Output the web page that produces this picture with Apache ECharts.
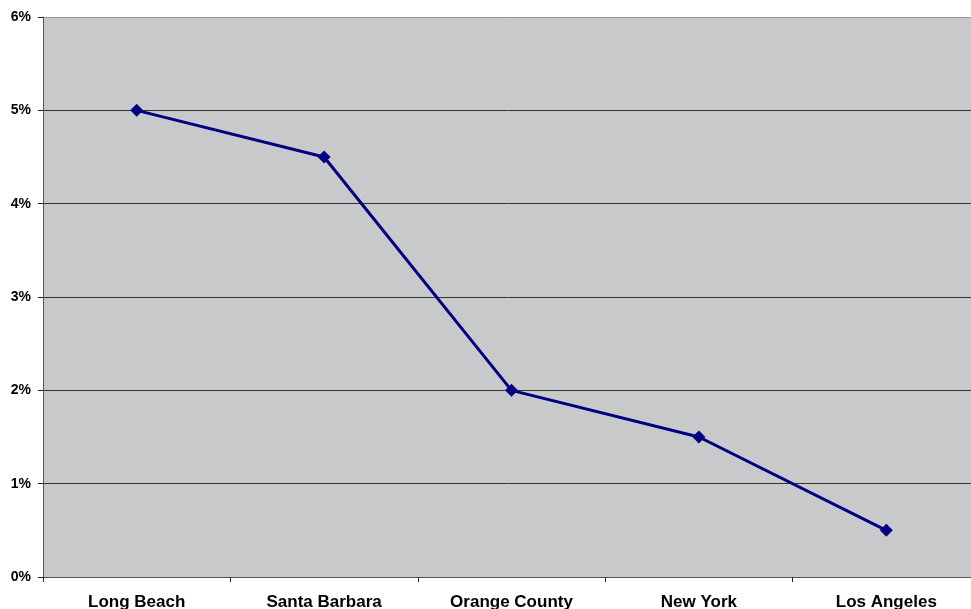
<!DOCTYPE html>
<html>
<head>
    <meta charset="utf-8" />
    <title>chart</title>
    <script src="https://cdn.jsdelivr.net/npm/echarts@6/dist/echarts.min.js"></script>
    <style>
        html, body { margin: 0; padding: 0; background: #fff; }
        #chart { width: 971px; height: 609px; }
    </style>
</head>
<body>
    <div id="chart"></div>
<script>
    var cities = ['Long Beach', 'Santa Barbara', 'Orange County', 'New York', 'Los Angeles'];
    var rates = [5, 4.5, 2, 1.5, 0.5];
    var yTicks = [0, 1, 2, 3, 4, 5, 6];

    var myChart = echarts.init(document.getElementById('chart'));
    var option = {
        animation: false,
        grid: {
            left: 43, top: 17, width: 937, bottom: 32,
            outerBoundsMode: 'none',
            containLabel: false,
            show: true,
            backgroundColor: '#c8c9cb',
            borderWidth: 0
        },
        xAxis: {
            type: 'category',
            data: cities,
            boundaryGap: true,
            axisLine: { lineStyle: { color: '#555', width: 1 } },
            axisTick: { show: true, length: 5, lineStyle: { color: '#222' } },
            axisLabel: {
                color: '#000', fontWeight: 'bold', fontSize: 17,
                fontFamily: 'Liberation Sans, Arial', margin: 17
            }
        },
        yAxis: {
            type: 'value',
            min: yTicks[0],
            max: yTicks[yTicks.length - 1],
            interval: 1,
            axisLine: { show: true, lineStyle: { color: '#555', width: 1 } },
            axisTick: { show: true, length: 5, lineStyle: { color: '#222' } },
            axisLabel: {
                color: '#000', fontWeight: 'bold', fontSize: 14,
                fontFamily: 'Liberation Sans, Arial', margin: 12,
                formatter: '{value}%'
            },
            splitLine: {
                show: true,
                lineStyle: { color: ['#333', '#333', '#333', '#333', '#333', '#333', '#999'], width: 1 }
            }
        },
        series: [{
            type: 'line',
            data: rates,
            symbol: 'diamond',
            symbolSize: 13,
            lineStyle: { color: '#000080', width: 3 },
            itemStyle: { color: '#000080' }
        }]
    };
    myChart.setOption(option);
</script>
</body>
</html>
